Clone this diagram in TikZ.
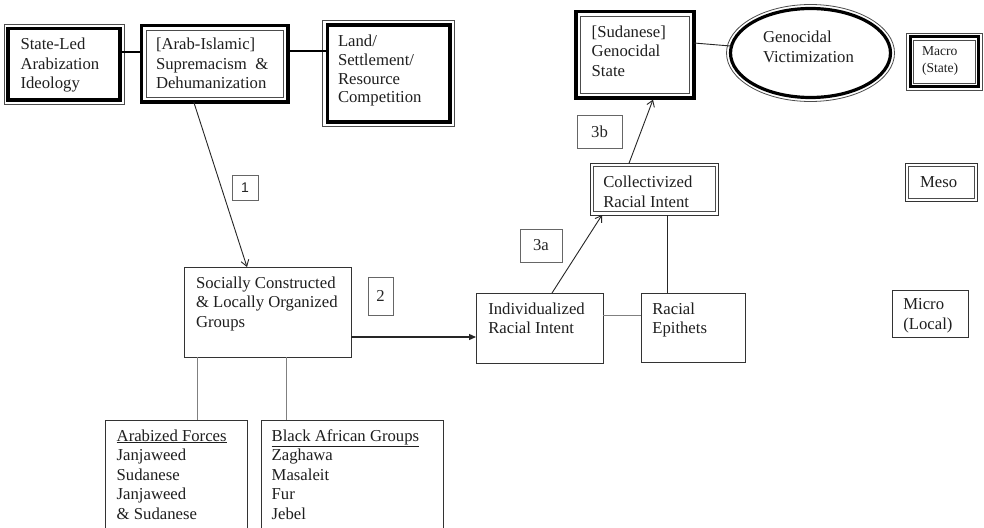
\documentclass[tikz,border=0pt]{standalone}
\usepackage{fontspec}
\setmainfont{Liberation Serif}
\setsansfont{Liberation Sans}
\usetikzlibrary{shapes.geometric,arrows.meta,calc}
\tikzset{
  bx/.style={inner sep=0pt, outer sep=0pt},
  thkbox/.style={bx, draw=black, line width=3.2pt},
  plainbox/.style={bx, draw=black!80, line width=0.9pt},
  dblbox/.style={bx, draw=black!80, line width=0.8pt},
  numbox/.style={bx, draw=black!60, line width=0.8pt, font=\fontsize{16.7}{19.5}\selectfont, text=black!85},
  txt/.style={inner sep=0pt, outer sep=0pt, anchor=north west, align=left, font=\fontsize{16.7}{19.5}\selectfont, text=black!88},
  smalltxt/.style={txt, font=\fontsize{13.6}{17.5}\selectfont},
  thinline/.style={draw=black!70, line width=0.8pt},
  conn/.style={draw=black!85, line width=0.9pt},
  grayconn/.style={draw=black!50, line width=0.9pt},
  boldconn/.style={draw=black, line width=1.8pt},
  openarrow/.style={-{Straight Barb[length=6pt,width=8pt]}},
  filledarrow/.style={-{Triangle[length=7pt,width=6pt]}},
}
\begin{document}
\begin{tikzpicture}[x=1pt,y=-1pt]
\useasboundingbox (0,0) rectangle (984,527);
\clip (0,0) rectangle (984,527);
\fill[white] (0,0) rectangle (984,527);

% top row boxes
\node[thkbox, minimum width=112pt, minimum height=71.5pt] (A) at (64,64.25) {};
\node[thkbox, minimum width=146.5pt, minimum height=76.5pt] (B) at (214.75,63.75) {};
\node[thkbox, minimum width=122.5pt, minimum height=97pt] (C) at (388.75,73.5) {};
\node[thkbox, minimum width=118pt, minimum height=86.3pt] (D) at (635,54.85) {};
\node[bx, ellipse, draw=black, line width=3.2pt, minimum width=160pt, minimum height=89pt] (E) at (810.5,53) {};
\node[thkbox, line width=3pt, minimum width=68.3pt, minimum height=50pt] (F) at (944.2,61.7) {};

\draw[thinline] ([shift={(-4pt,4pt)}]A.north west) rectangle ([shift={(4pt,-4pt)}]A.south east);
\draw[thinline] ([shift={(4.5pt,-4.5pt)}]B.north west) rectangle ([shift={(-4.5pt,4.5pt)}]B.south east);
\draw[thinline] ([shift={(-4.7pt,4.7pt)}]C.north west) rectangle ([shift={(4.7pt,-4.7pt)}]C.south east);
\draw[thinline] ([shift={(4.6pt,-4.6pt)}]D.north west) rectangle ([shift={(-4.6pt,4.6pt)}]D.south east);
\draw[thinline] ([shift={(-3.6pt,3.6pt)}]F.north west) rectangle ([shift={(3.6pt,-3.6pt)}]F.south east);
\draw[thinline] ([shift={(3.3pt,-3.3pt)}]F.north west) rectangle ([shift={(-3.3pt,3.3pt)}]F.south east);
\draw[thinline] (E.center) ellipse [x radius=84pt, y radius=48.5pt];

% middle boxes
\node[dblbox, minimum width=128.3pt, minimum height=51.7pt] (H) at (654.15,189.15) {};
\node[dblbox, minimum width=72pt, minimum height=38.7pt] (I) at (941,182.35) {};
\draw[thinline] ([shift={(3.3pt,-3.3pt)}]H.north west) rectangle ([shift={(-3.3pt,3.3pt)}]H.south east);
\draw[thinline] ([shift={(3pt,-3pt)}]I.north west) rectangle ([shift={(-3pt,3pt)}]I.south east);
\node[plainbox, minimum width=127pt, minimum height=70pt] (K) at (539.5,328) {};
\node[plainbox, minimum width=104pt, minimum height=69pt] (L) at (693,327.5) {};
\node[plainbox, minimum width=167pt, minimum height=90pt] (M) at (267.5,312) {};
\node[plainbox, minimum width=76pt, minimum height=47pt] (R) at (930,313.5) {};
\node[plainbox, minimum width=142pt, minimum height=125pt] (P) at (176,482.5) {};
\node[plainbox, minimum width=182pt, minimum height=125pt] (Q) at (352,482.5) {};

% number labels
\node[numbox, minimum width=26pt, minimum height=25pt, font=\sffamily\fontsize{14}{16}\selectfont] (O) at (245,187.5) {1};
\node[numbox, minimum width=25pt, minimum height=38pt] (N) at (380.5,296) {2};
\node[numbox, minimum width=42pt, minimum height=33pt] (J) at (541,245.5) {3a};
\node[numbox, minimum width=45pt, minimum height=33pt] (G) at (599.5,131.5) {3b};

% texts
\node[txt] (At) at (20.5,38) {State-Led\\Arabization\\Ideology};
\node[txt] (Bt) at (156,38) {[Arab-Islamic]\\Supremacism~~\&\\Dehumanization};
\node[txt, font=\fontsize{16.7}{18.8}\selectfont] (Ct) at (338,35) {Land/\\Settlement/\\Resource\\Competition};
\node[txt] (Dt) at (591.7,25.5) {[Sudanese]\\Genocidal\\State};
\node[txt] (Et) at (763,31) {Genocidal\\Victimization};
\node[smalltxt] (Ft) at (922,46.5) {Macro\\(State)};
\node[txt] (Ht) at (603.3,176) {Collectivized\\Racial Intent};
\node[txt] (It) at (920,176.3) {Meso};
\node[txt] (Kt) at (488.3,302.5) {Individualized\\Racial Intent};
\node[txt] (Lt) at (652.3,302.5) {Racial\\Epithets};
\node[txt] (Mt) at (196,276.5) {Socially Constructed\\\& Locally Organized\\Groups};
\node[txt] (Rt) at (903.3,298.5) {Micro\\(Local)};
\node[txt] (Pt) at (116.7,429.5) {\underline{Arabized Forces}\\Janjaweed\\Sudanese\\Janjaweed\\\& Sudanese};
\node[txt] (Qt) at (271.7,429.5) {\underline{Black African Groups}\\Zaghawa\\Masaleit\\Fur\\Jebel};

% connectors
\draw[boldconn] ([yshift=12.25pt]A.east) -- ([yshift=12.25pt]A.east -| B.west);
\draw[boldconn] ([yshift=12.75pt]B.east) -- ([yshift=12.75pt]B.east -| C.west);
\draw[conn] ([yshift=11.85pt]D.east) -- (E.175);
\draw[conn, openarrow] ([xshift=-21pt]B.south) -- ([xshift=63pt]M.north west);
\draw[conn, line width=1.3pt, filledarrow] ([yshift=-25pt]M.east) -- ([yshift=-25pt]M.east -| K.west);
\draw[conn, openarrow] ([xshift=12.5pt]K.north) -- ([xshift=12pt]H.south west);
\draw[conn, openarrow] ([xshift=39pt]H.north west) -- ([shift={(77pt,-1.6pt)}]D.south west);
\draw[grayconn] ([yshift=13pt]K.east) -- ([yshift=13pt]K.east -| L.west);
\draw[conn] ([xshift=26pt]L.north west) -- ([xshift=26pt]L.north west |- H.south);
\draw[grayconn] ([xshift=13pt]M.south west) -- ([xshift=13pt]M.south west |- P.north);
\draw[grayconn] ([xshift=102pt]M.south west) -- ([xshift=102pt]M.south west |- Q.north);
\end{tikzpicture}
\end{document}
